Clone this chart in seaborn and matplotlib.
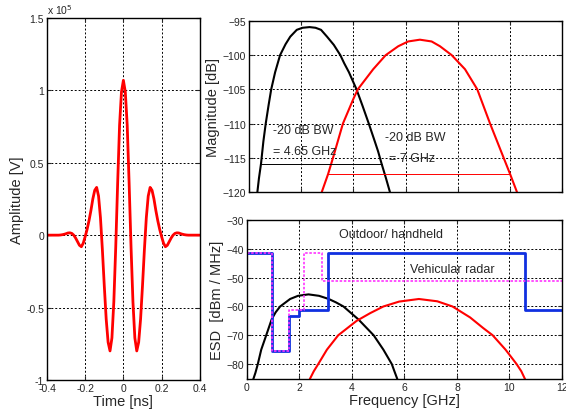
import numpy as np
import pandas as pd
import matplotlib
matplotlib.use("Agg")
import matplotlib.pyplot as plt
import seaborn as sns

sns.set_style("ticks")
plt.rcParams['font.family'] = ['Liberation Sans', 'DejaVu Sans']
plt.rcParams['xtick.direction'] = 'in'
plt.rcParams['ytick.direction'] = 'in'

# pulse in time domain (amplitude in units of 1e5 V)
time_ns = [-0.40, -0.39, -0.38, -0.37, -0.36, -0.35, -0.34, -0.33, -0.32, -0.31,
           -0.30, -0.29, -0.28, -0.27, -0.26, -0.25, -0.24, -0.23, -0.22, -0.21,
           -0.20, -0.19, -0.18, -0.17, -0.16, -0.15, -0.14, -0.13, -0.12, -0.11,
           -0.10, -0.09, -0.08, -0.07, -0.06, -0.05, -0.04, -0.03, -0.02, -0.01,
           0.00, 0.01, 0.02, 0.03, 0.04, 0.05, 0.06, 0.07, 0.08, 0.09,
           0.10, 0.11, 0.12, 0.13, 0.14, 0.15, 0.16, 0.17, 0.18, 0.19,
           0.20, 0.21, 0.22, 0.23, 0.24, 0.25, 0.26, 0.27, 0.28, 0.29,
           0.30, 0.31, 0.32, 0.33, 0.34, 0.35, 0.36, 0.37, 0.38, 0.39, 0.40]
amplitude = [0, 0, 0, 0, 0, 0, 0, 0.001, 0.003, 0.006,
             0.010, 0.015, 0.016, 0.012, 0.0, -0.02, -0.045, -0.07, -0.08, -0.055,
             -0.01, 0.04, 0.10, 0.17, 0.25, 0.31, 0.33, 0.27, 0.12, -0.10,
             -0.35, -0.58, -0.74, -0.80, -0.71, -0.46, -0.08, 0.36, 0.76, 0.99,
             1.07, 0.99, 0.76, 0.36, -0.08, -0.46, -0.71, -0.80, -0.74, -0.58,
             -0.35, -0.10, 0.12, 0.27, 0.33, 0.31, 0.25, 0.17, 0.10, 0.04,
             -0.01, -0.055, -0.08, -0.07, -0.045, -0.02, 0.0, 0.012, 0.016, 0.015,
             0.010, 0.006, 0.003, 0.001, 0, 0, 0, 0, 0, 0, 0]

# spectra magnitude [dB]
f_black = [0.32, 0.38, 0.46, 0.55, 0.64, 0.75, 0.85, 1.0, 1.19, 1.4, 1.58, 1.83, 2.05, 2.32,
           2.55, 2.76, 2.99, 3.25, 3.5, 3.65, 3.83, 4.12, 4.35, 4.59, 4.82, 4.95, 5.08, 5.25, 5.4]
mag_black = [-120, -118, -115.85, -112.6, -110, -107.3, -105, -102.5, -100, -98.4, -97.3, -96.3, -96.0, -95.9,
             -96.0, -96.3, -97.3, -98.5, -100, -101.2, -102.5, -105, -107.4, -110, -112.6, -114.1, -115.85, -118, -120]
f_red = [2.79, 3.03, 3.22, 3.6, 4.0, 4.17, 4.76, 5.24, 5.72, 6.1, 6.55, 7.0, 7.32,
         7.77, 8.28, 8.75, 9.24, 9.76, 10.01, 10.27]
mag_red = [-120, -117.4, -115, -110, -106.4, -105, -102.06, -100, -98.7, -98.0, -97.74, -98.0, -98.7,
           -100, -102.06, -105, -110, -115, -117.4, -120]
bw_black = [0.46, 5.1]
bw_black_lvl = [-115.85, -115.85]
bw_red = [3.03, 10.01]
bw_red_lvl = [-117.4, -117.4]

# ESD [dBm/MHz]
f_esd_black = [0.25, 0.33, 0.42, 0.55, 0.74, 0.95, 1.1, 1.27, 1.65, 1.95, 2.35, 2.75, 3.12,
               3.4, 3.68, 4.25, 4.83, 5.2, 5.52, 5.62, 5.73]
esd_black = [-85.2, -83, -80, -75, -70, -64.4, -62, -60, -57.4, -56.3, -55.8, -56.3, -57.4,
             -58.6, -60, -64.5, -70, -75, -80, -82.5, -85.2]
f_esd_red = [2.4, 2.55, 2.72, 3.05, 3.48, 4.18, 4.7, 5.2, 5.8, 6.55, 7.25, 7.83,
             8.5, 9.0, 9.36, 9.85, 10.27, 10.45, 10.59]
esd_red = [-85.2, -82.5, -80, -75, -70, -65, -62.3, -60, -58.3, -57.4, -58.2, -60,
           -63.8, -67.5, -70, -75, -80, -82.5, -85.2]
f_handheld = [0, 0.96, 1.61, 1.99, 3.1, 10.6, 12]
mask_handheld = [-41.3, -75.3, -63.3, -61.3, -41.3, -61.3, -61.3]
f_vehicular = [0, 0.96, 1.61, 2.18, 2.86, 12]
mask_vehicular = [-41.3, -75.3, -61.3, -41.3, -51.3, -51.3]

fig = plt.figure(figsize=(5.66, 4.14), dpi=100)
ax1 = fig.add_axes([0.083, 0.080, 0.270, 0.874])
ax2 = fig.add_axes([0.440, 0.534, 0.553, 0.413])
ax3 = fig.add_axes([0.436, 0.082, 0.557, 0.384])

grid_kw = dict(color='black', linestyle=(0, (2, 2)), linewidth=0.7)

# left: time pulse
sns.lineplot(x=time_ns, y=amplitude, ax=ax1, color='red', linewidth=2, sort=False)
ax1.set_xlim(-0.4, 0.4)
ax1.set_ylim(-1, 1.5)
ax1.set_xticks([-0.4, -0.2, 0, 0.2, 0.4])
ax1.set_xticklabels(['-0.4', '-0.2', '0', '0.2', '0.4'])
ax1.set_yticks([-1, -0.5, 0, 0.5, 1, 1.5])
ax1.set_yticklabels(['-1', '-0.5', '0', '0.5', '1', '1.5'])
ax1.set_xlabel('Time [ns]', fontsize=10.5, labelpad=1)
ax1.set_ylabel('Amplitude [V]', fontsize=10.5, labelpad=2)
ax1.text(0.0, 1.005, 'x 10$^5$', transform=ax1.transAxes, fontsize=7.5, va='bottom', ha='left')

# top right: magnitude
sns.lineplot(x=f_black, y=mag_black, ax=ax2, color='black', linewidth=1.5, sort=False)
sns.lineplot(x=f_red, y=mag_red, ax=ax2, color='red', linewidth=1.5, sort=False)
sns.lineplot(x=bw_black, y=bw_black_lvl, ax=ax2, color='black', linewidth=0.7)
sns.lineplot(x=bw_red, y=bw_red_lvl, ax=ax2, color='red', linewidth=0.7)
ax2.set_xlim(0, 12)
ax2.set_ylim(-120, -95)
ax2.set_xticks(range(0, 13, 2))
ax2.set_xticklabels([])
ax2.set_yticks([-120, -115, -110, -105, -100, -95])
ax2.set_ylabel('Magnitude [dB]', fontsize=10.5, labelpad=2)
ax2.text(0.91, -110.9, '-20 dB BW', fontsize=9, va='center')
ax2.text(0.91, -114.0, '= 4.65 GHz', fontsize=9, va='center')
ax2.text(5.2, -111.9, '-20 dB BW', fontsize=9, va='center')
ax2.text(5.38, -115.0, '= 7 GHz', fontsize=9, va='center')

# bottom right: ESD with FCC masks
sns.lineplot(x=f_esd_black, y=esd_black, ax=ax3, color='black', linewidth=1.5, sort=False)
sns.lineplot(x=f_esd_red, y=esd_red, ax=ax3, color='red', linewidth=1.5, sort=False)
sns.lineplot(x=f_handheld, y=mask_handheld, ax=ax3, color='#1030e0', linewidth=2,
             drawstyle='steps-post')
sns.lineplot(x=f_vehicular, y=mask_vehicular, ax=ax3, color='#ff33ff', linewidth=1.2,
             linestyle=(0, (1.5, 1)), drawstyle='steps-post')
ax3.set_xlim(0, 12)
ax3.set_ylim(-85.2, -30)
ax3.set_xticks(range(0, 13, 2))
ax3.set_yticks([-80, -70, -60, -50, -40, -30])
ax3.set_xlabel('Frequency [GHz]', fontsize=10.5, labelpad=1)
ax3.set_ylabel('ESD  [dBm / MHz]', fontsize=10.5, labelpad=2)
ax3.text(3.52, -34.7, 'Outdoor/ handheld', fontsize=9, va='center')
ax3.text(6.2, -47.0, 'Vehicular radar', fontsize=9, va='center')

for ax in (ax1, ax2, ax3):
    ax.grid(True, **grid_kw)
    ax.tick_params(labelsize=7.5, length=3, width=0.8, top=True, right=True, pad=2)
    for s in ax.spines.values():
        s.set_linewidth(1.0)
        s.set_color('black')

fig.savefig('out.png', dpi=100)
